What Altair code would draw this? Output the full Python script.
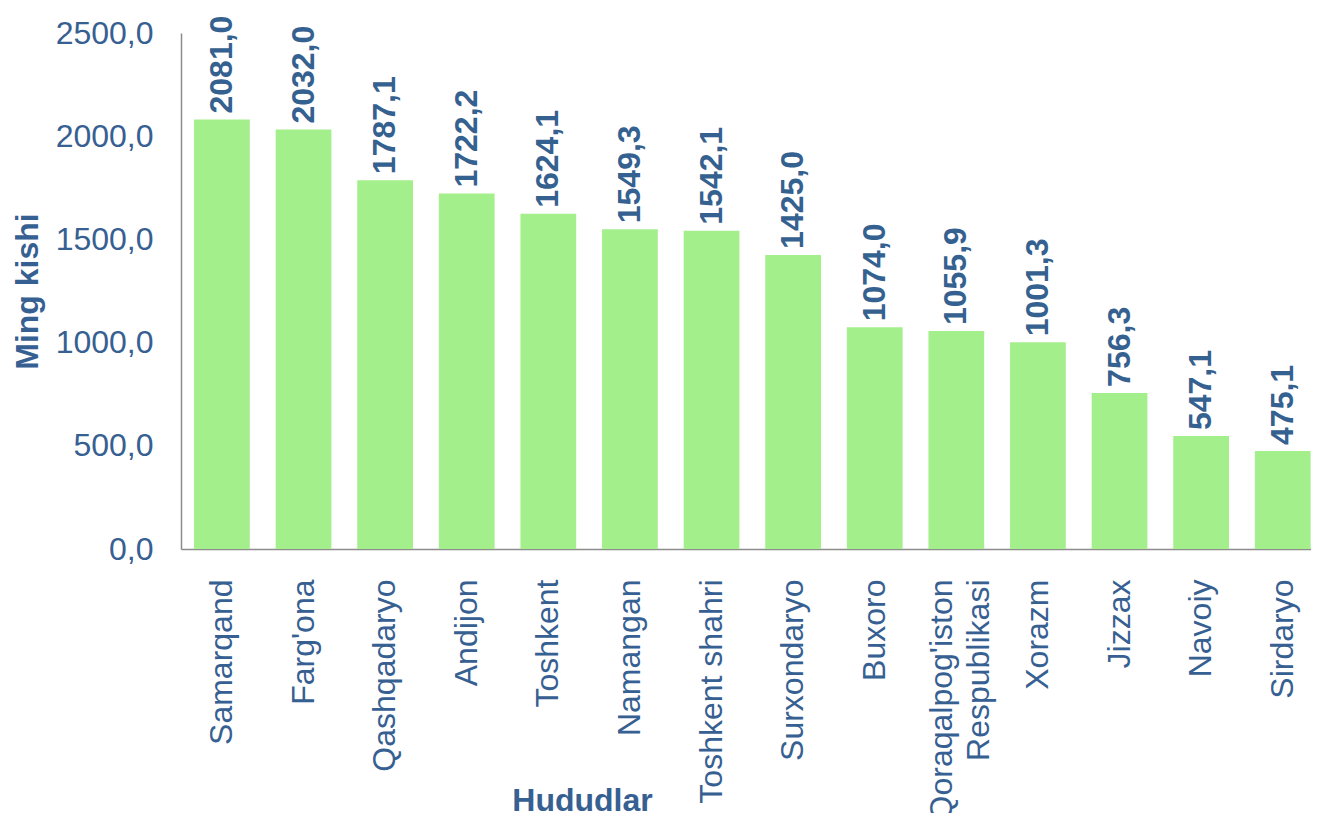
import altair as alt
import pandas as pd

regions = ["Samarqand", "Farg'ona", "Qashqadaryo", "Andijon", "Toshkent", "Namangan",
           "Toshkent shahri", "Surxondaryo", "Buxoro",
           "Qoraqalpog'iston|Respublikasi\u00a0\u00a0\u00a0",
           "Xorazm", "Jizzax", "Navoiy", "Sirdaryo"]
values = [2081.0, 2032.0, 1787.1, 1722.2, 1624.1, 1549.3, 1542.1, 1425.0,
          1074.0, 1055.9, 1001.3, 756.3, 547.1, 475.1]
y_ticks = [0, 500, 1000, 1500, 2000, 2500]

df = pd.DataFrame({"region": regions, "value": values})

FONT = "Liberation Sans"
TXT = "#376092"
LBL = "#34618F"
BAR = "#A3EF8B"

base = alt.Chart(df).transform_calculate(
    label="replace(format(datum.value, '.1f'), '.', ',')"
).encode(
    x=alt.X("region:N", sort=None,
            scale=alt.Scale(paddingInner=0.317, paddingOuter=0.0825, align=0.97),
            axis=alt.Axis(title="Hududlar", labelAngle=270, labelAlign="right",
                          labelBaseline="middle", labelPadding=30, labelLimit=0,
                          labelExpr="split(datum.label, '|')", labelLineHeight=37,
                          labelOffset=alt.condition("indexof(datum.label, '|') >= 0",
                                                    alt.value(-14), alt.value(0)),
                          labelFont=FONT, labelFontSize=32, labelColor=TXT,
                          ticks=False, tickSize=0, domainColor="#8c8c8c", domainWidth=1.5,
                          titleFont=FONT, titleFontSize=32, titleFontWeight="bold",
                          titleColor=TXT, titleX=401, titleY=261,
                          titleAlign="center", titleBaseline="alphabetic")),
    y=alt.Y("value:Q",
            scale=alt.Scale(domain=[0, 2500], nice=False),
            axis=alt.Axis(title="Ming kishi", values=y_ticks, grid=False,
                          labelExpr="replace(format(datum.value, '.1f'), '.', ',')",
                          labelFont=FONT, labelFontSize=32, labelColor=TXT,
                          labelPadding=28, ticks=False, tickSize=0,
                          domainColor="#8c8c8c", domainWidth=1.5,
                          titleFont=FONT, titleFontSize=32, titleFontWeight="bold",
                          titleColor=TXT, titleAngle=270, titleX=-144, titleY=258,
                          titleAlign="center", titleBaseline="alphabetic")),
)

bars = base.mark_bar(color=BAR)
texts = base.mark_text(angle=270, align="left", baseline="middle", dx=6,
                       font=FONT, fontSize=32, fontWeight="bold", color=LBL).encode(
    text="label:N")

chart = (bars + texts).properties(
    width=1130, height=516,
    autosize=alt.AutoSizeParams(type="none"),
    padding={"left": 173, "top": 25, "right": 0, "bottom": 264},
    background="white",
).configure_view(stroke=None)

chart.save("out.html", embed_options={"renderer": "svg", "actions": False})
